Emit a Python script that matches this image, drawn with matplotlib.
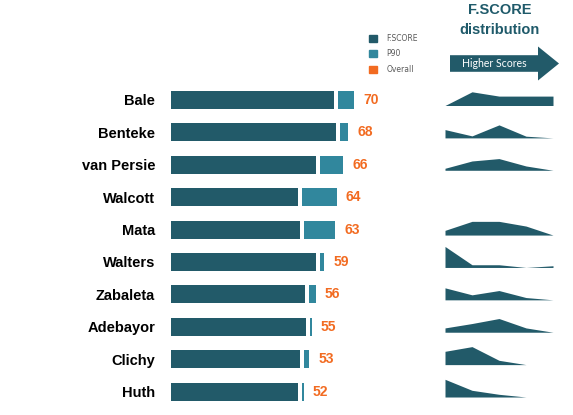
import matplotlib.pyplot as plt
from matplotlib.patches import Patch, FancyArrow

players = ['Bale', 'Benteke', 'van Persie', 'Walcott', 'Mata',
           'Walters', 'Zabaleta', 'Adebayor', 'Clichy', 'Huth']
fscore = [62.7, 63.5, 55.8, 48.8, 49.6, 55.8, 51.5, 51.9, 49.6, 48.8]
p90 = [7.7, 4.6, 10.4, 15.0, 13.5, 3.1, 4.2, 2.3, 3.5, 2.3]
overall = [70, 68, 66, 64, 63, 59, 56, 55, 53, 52]

# F.SCORE distribution (relative counts per score bin, low -> high)
dist = [
    [0, 13.7, 9.4, 9.4, 9.4],
    [8.3, 2.0, 13.0, 1.7, 0],
    [2.0, 9.3, 11.7, 4.3, 0],
    [],
    [4.7, 13.7, 13.7, 9.0, 0],
    [21.0, 2.7, 2.7, 0, 1.7],
    [12.0, 5.0, 9.3, 2.3, 0],
    [4.3, 8.7, 13.7, 4.3, 0],
    [13.3, 18.0, 4.3, 0],
    [17.7, 6.7, 2.7, 0],
]

dark = '#225a69'
light = '#31879d'
orange = '#f26b21'

W, H = 573, 415
fig = plt.figure(figsize=(W / 100, H / 100), dpi=100)

bottom = 1 - 407.7 / H
height = 323.9 / H
ax = fig.add_axes([171 / W, bottom, 260 / W, height])
rows = list(range(len(players)))
gap = 1.5
ax.barh(rows, fscore, height=0.556, color=dark)
ax.barh(rows, [p - gap for p in p90], left=[f + gap for f in fscore],
        height=0.556, color=light)
for i in rows:
    ax.annotate(str(overall[i]), (fscore[i] + p90[i], i), xytext=(6.5, 0),
                textcoords='offset points', va='center', ha='left',
                color=orange, fontsize=10, fontweight='bold',
                family='Liberation Sans')
ax.set_xlim(0, 100)
ax.set_ylim(9.5, -0.5)
ax.set_yticks(rows)
ax.set_yticklabels(players, fontsize=10.5, fontweight='bold',
                   family='Liberation Sans')
ax.tick_params(axis='y', length=0, pad=11.5)
ax.set_xticks([])
for s in ax.spines.values():
    s.set_visible(False)
ax.patch.set_visible(False)

# sparklines
dax = fig.add_axes([445 / W, bottom, 108 / W, height])
k = 1 / 32.39
for i, d in enumerate(dist):
    if not d:
        continue
    base = i + 0.17
    xs = list(range(len(d)))
    dax.fill_between(xs, [base - v * k for v in d], base, color=dark, lw=0)
dax.set_xlim(0, 4)
dax.set_ylim(9.5, -0.5)
dax.axis('off')

# header
fig.text(500 / W, 1 - 10.5 / H, 'F.SCORE', ha='center', va='center',
         fontsize=10.5, fontweight='bold', color='#1f5a6a',
         family='Liberation Sans')
fig.text(500 / W, 1 - 30 / H, 'distribution', ha='center', va='center',
         fontsize=10.5, fontweight='bold', color='#1f5a6a',
         family='Liberation Sans')
arrow = FancyArrow(450 / W, 1 - 63.5 / H, 109 / W, 0, width=16.6 / H,
                   head_width=34 / H, head_length=21 / W,
                   length_includes_head=True, color=dark, lw=0,
                   transform=fig.transFigure)
fig.patches.append(arrow)
fig.text(494 / W, 1 - 63.5 / H, 'Higher Scores', ha='center', va='center',
         fontsize=7.6, color='white', family='Lato')

handles = [Patch(color=dark, label='F.SCORE'),
           Patch(color=light, label='P90'),
           Patch(color=orange, label='Overall')]
fig.legend(handles=handles, loc='upper left',
           bbox_to_anchor=(362 / W, 1 - 27 / H), frameon=False,
           fontsize=5.5, handlelength=1.1, handleheight=1.1,
           labelspacing=0.85, handletextpad=1.2, labelcolor='#595959')

fig.savefig('out.png', dpi=100)
